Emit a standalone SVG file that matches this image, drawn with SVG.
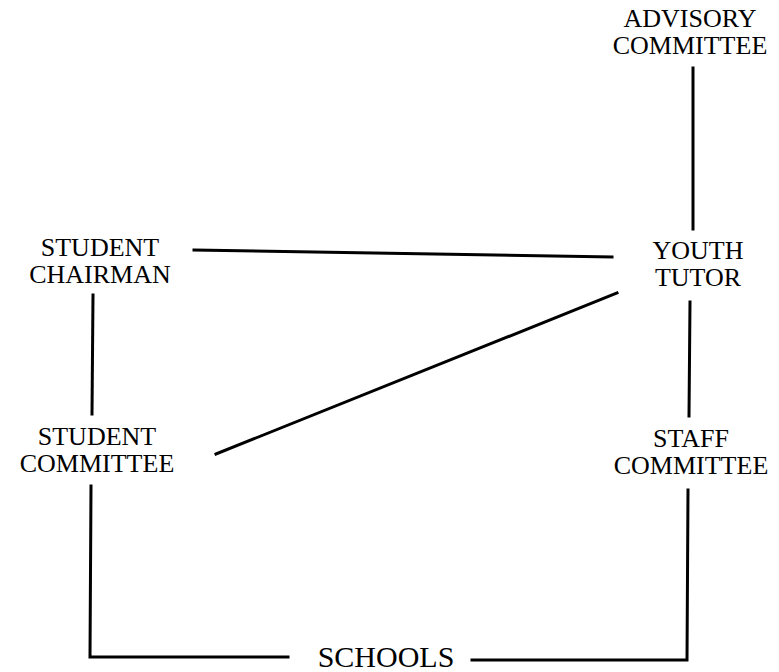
<svg xmlns="http://www.w3.org/2000/svg" width="779" height="672" viewBox="0 0 779 672">
<style>
text{font-family:"Liberation Serif","Times New Roman",serif;font-size:26px;fill:#000;text-anchor:middle}
.big{font-size:30px}
.c{stroke:#000;stroke-width:3;fill:none;stroke-linecap:square}
</style>
<rect width="779" height="672" fill="#fff"/>
<g id="advisory"><text x="690" y="27">ADVISORY</text><text x="690" y="54">COMMITTEE</text></g>
<g id="youth-tutor"><text x="698" y="259">YOUTH</text><text x="698" y="286">TUTOR</text></g>
<g id="student-chairman"><text x="100" y="256">STUDENT</text><text x="100" y="283">CHAIRMAN</text></g>
<g id="student-committee"><text x="97" y="445">STUDENT</text><text x="97" y="472">COMMITTEE</text></g>
<g id="staff-committee"><text x="691" y="447">STAFF</text><text x="691" y="474">COMMITTEE</text></g>
<g id="schools"><text class="big" x="386" y="667">SCHOOLS</text></g>
<g id="connectors">
<line class="c" x1="693" y1="68" x2="693" y2="229"/>
<line class="c" x1="690" y1="302" x2="689" y2="416"/>
<line class="c" x1="194" y1="250" x2="612" y2="257"/>
<line class="c" x1="216" y1="454" x2="617" y2="293"/>
<line class="c" x1="93" y1="295" x2="92" y2="414"/>
<polyline class="c" points="91,486 90,657 288,657"/>
<polyline class="c" points="688,490 687,660 472,660"/>
</g>
</svg>
